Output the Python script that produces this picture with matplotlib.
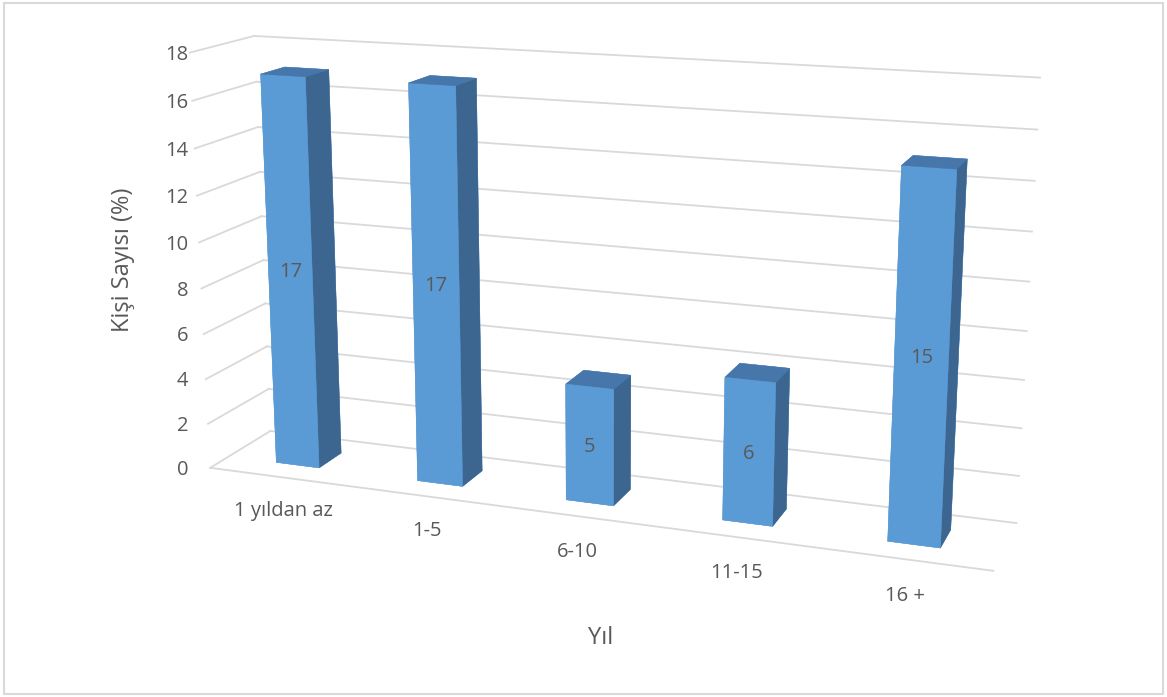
import numpy as np
import matplotlib
matplotlib.use("Agg")
import matplotlib.pyplot as plt
from matplotlib.patches import Rectangle

# Data
categories = ["1 yıldan az", "1-5", "6-10", "11-15", "16 +"]
values = [17, 17, 5, 6, 15]
y_ticks = [0, 2, 4, 6, 8, 10, 12, 14, 16, 18]
y_title = "Kişi Sayısı (%)"
x_title = "Yıl"

# Figure and 3D view setup
W, H = 1167, 697
fig = plt.figure(figsize=(W / 100, H / 100), dpi=100)
ax = fig.add_axes([0.1062, -0.0902, 0.7921, 1.3262], projection="3d",
                  computed_zorder=False)
ax.set_axis_off()

n = len(categories)
zmax = y_ticks[-1]
grid_c = "#D9D9D9"
text_c = "#595959"
font = "Open Sans"

# walls: side wall (x = 0) and back wall (y = 1) gridlines, plus floor front edge
for v in y_ticks:
    ax.plot([0, 0], [0, 1], [v, v], color=grid_c, lw=1.3, zorder=1)
    ax.plot([0, n], [1, 1], [v, v], color=grid_c, lw=1.3, zorder=1)
ax.plot([0, n], [0, 0], [0, 0], color=grid_c, lw=1.3, zorder=1)

# 3D columns
half_w = 0.154
y_front, y_back = 0.3025, 0.692
front_c, top_c, side_c = "#5B9BD5", "#4676AA", "#3C6690"
face_cols = []
for _ in values:
    # face order: bottom, top, front, back, left, right
    face_cols += [front_c, top_c, front_c, front_c, front_c, side_c]
xpos = np.arange(n) + 0.5
ax.bar3d(xpos - half_w, [y_front] * n, [0] * n, 2 * half_w, y_back - y_front,
         values, color=face_cols, edgecolor=face_cols, linewidth=0.3,
         shade=False, zorder=2)

ax.set_xlim(0, n)
ax.set_ylim(0, 1)
ax.set_zlim(0, zmax)
ax.set_box_aspect((1.8754, 0.2969, 1.0))
ax.set_proj_type("persp", focal_length=0.4213)
ax.view_init(elev=14.509, azim=-69.831)

fig.canvas.draw()


def to_px(x, y, z):
    """Project a 3D data point to figure pixel coordinates."""
    M = ax.get_proj()
    v = M @ np.array([x, y, z, 1.0])
    return ax.transData.transform((v[0] / v[3], v[1] / v[3]))


def cap_shift(size):
    # half of the cap height, so digits sit centred on a point
    return 0.714 * size * 100 / 72 / 2


# value axis tick labels
tick_size = 14.5
for v in y_ticks:
    px, py = to_px(0, 0, v)
    fig.text(188 / W, (py - cap_shift(tick_size)) / H, str(v), ha="right",
             va="baseline", fontsize=tick_size, color=text_c, family=font)

# category labels along the front edge
for i, cat in enumerate(categories):
    px, py = to_px(i + 0.5, 0.04, -1.525)
    fig.text(px / W, (py - cap_shift(tick_size)) / H, cat, ha="center",
             va="baseline", fontsize=tick_size, color=text_c, family=font)

# value labels centred on the projected column front faces
for i, val in enumerate(values):
    bx, by = to_px(i + 0.5, y_front, 0)
    tx, ty = to_px(i + 0.5, y_front, val)
    cx, cy = (bx + tx) / 2, (by + ty) / 2
    fig.text(cx / W, (cy - cap_shift(tick_size)) / H, str(val), ha="center",
             va="baseline", fontsize=tick_size, color=text_c, family=font)

# axis titles
title_size = 17
fig.text(123 / W, (H - 260) / H, y_title, rotation=90, ha="center", va="center",
         fontsize=title_size, color=text_c, family=font)
fig.text(601 / W, (H - 638) / H, x_title, ha="center", va="center",
         fontsize=title_size, color=text_c, family=font)

# chart border
fig.add_artist(Rectangle((3.5 / W, 3.5 / H), 1159 / W, 691 / H,
                         transform=fig.transFigure, fill=False,
                         edgecolor=grid_c, lw=1.5))

fig.savefig("out.png", dpi=100)
